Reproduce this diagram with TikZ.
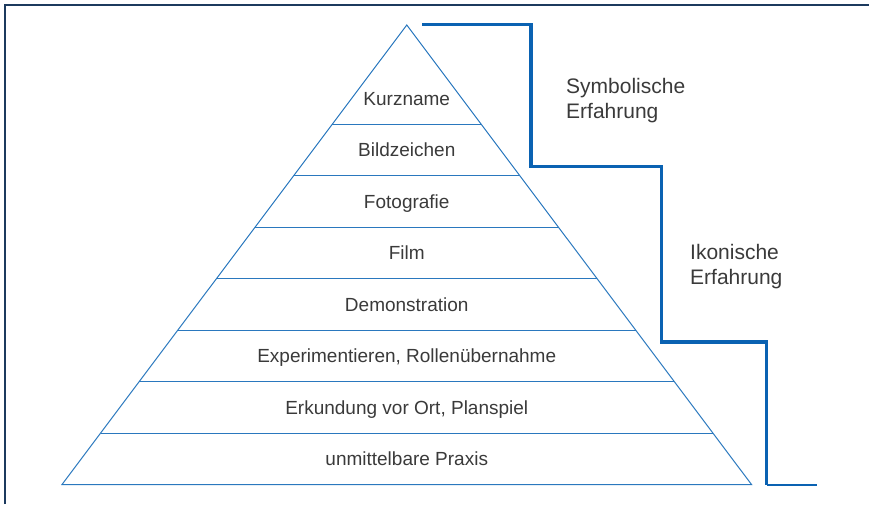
\documentclass[tikz,border=0pt]{standalone}
\usepackage{fontspec}
\setmainfont{Liberation Sans}
\usetikzlibrary{calc}
\definecolor{pyrblue}{HTML}{2A78BE}
\definecolor{stairblue}{HTML}{0A62B2}
\definecolor{framenavy}{HTML}{1C3A5E}
\definecolor{txtgray}{HTML}{3A3A3A}
\tikzset{
  band/.style={text=txtgray,font=\fontsize{19}{22}\selectfont,text height=13.5pt,text depth=0pt,inner sep=0pt},
  side/.style={text=txtgray,font=\fontsize{21}{25}\selectfont,align=left,anchor=west,inner sep=0pt},
  pyr/.style={draw=pyrblue,line width=1pt},
  stair/.style={draw=stairblue,line width=3.2pt},
}
\begin{document}
\begin{tikzpicture}[x=1pt,y=-1pt]
  \useasboundingbox (0,0) rectangle (869,504);
  \draw[framenavy,line width=2pt] (4.5,504) -- (4.5,4.5) -- (869,4.5);
  \coordinate (apex) at (406.75,25);
  \coordinate (bl) at (62,484.5);
  \coordinate (br) at (751.5,484.5);
  \draw[pyr] (apex) -- (bl) -- (br) -- cycle;
  \foreach \k in {1,...,7} {
    \pgfmathsetmacro\t{(99+51.5*(\k-1))/459.5}
    \coordinate (l\k) at ($(apex)!\t!(bl)$);
    \coordinate (r\k) at ($(apex)!\t!(br)$);
    \draw[pyr] (l\k) -- (r\k);
  }
  \draw
    (406.75,98.5) node[band] (kurz){Kurzname}
    (406.75,150) node[band] (bild){Bildzeichen}
    (406.75,201.5) node[band] (foto){Fotografie}
    (406.75,253) node[band] (film){Film}
    (406.75,304.5) node[band] (demo){Demonstration}
    (406.75,356) node[band] (exp){Experimentieren, Rollenübernahme}
    (406.75,407.5) node[band] (erk){Erkundung vor Ort, Planspiel}
    (406.75,459) node[band] (praxis){unmittelbare Praxis};
  \draw
    (566,101) node[side] (symb){Symbolische\\Erfahrung}
    (690,267) node[side] (ikon){Ikonische\\Erfahrung};
  \coordinate (s0) at (422,24.5);
  \coordinate (s1) at (531,24.5);
  \coordinate (s2) at (531,166.5);
  \coordinate (s3) at (661.5,166.5);
  \coordinate (s4) at (661.5,342);
  \coordinate (s5) at (766.5,342);
  \coordinate (s6) at (766.5,485);
  \coordinate (s7) at (817,485);
  \begin{scope}[stair]
    \draw (s0) -- (s1) -- (s2) -- (s3) -- (s4) -- (s5) -- (s6);
  \end{scope}
  \draw[stairblue,line width=1.3pt] (s6) -- (s7);
\end{tikzpicture}
\end{document}
